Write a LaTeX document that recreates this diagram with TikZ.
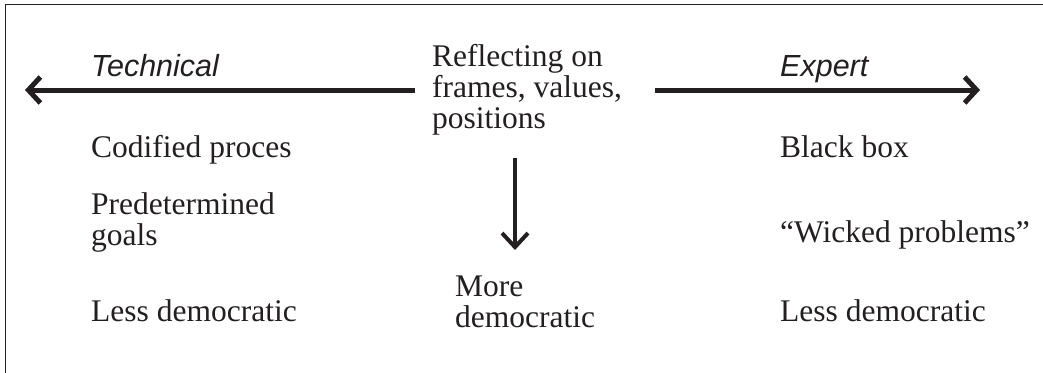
\documentclass[tikz,border=0pt]{standalone}
\usepackage{fontspec}
\setmainfont{Liberation Serif}
\newfontfamily\labelsans{Liberation Sans}
\usetikzlibrary{arrows.meta}
\definecolor{ink}{HTML}{231F20}
\begin{document}
\begin{tikzpicture}[x=1pt,y=-1pt,
  txt/.style={anchor=base west,inner sep=0pt,align=left,text=ink,font=\fontsize{31.5}{31}\selectfont},
  pole/.style={anchor=base west,inner sep=0pt,text=ink,font=\labelsans\itshape\fontsize{30.5}{31}\selectfont},
  bigarrow/.style={draw=ink,line width=5pt,-{Straight Barb[length=12pt,width=26pt]}},
  downarrow/.style={draw=ink,line width=4pt,-{Straight Barb[length=14pt,width=26pt]}}]
\useasboundingbox (0,0) rectangle (1043,372);
\draw[ink,line width=1.5pt] (5.5,380) -- (5.5,4.5) -- (1050,4.5);
% poles
\node[pole] (tech) at (91,76) {Technical};
\node[pole] (expert) at (780,76) {Expert};
% center text (base = last line)
\node[txt] (center) at (432,128) {Reflecting on\\frames, values,\\positions};
% arrows
\coordinate (lstart) at (415,90);
\coordinate (lend) at (25,90);
\coordinate (rstart) at (655,90);
\coordinate (rend) at (980,90);
\coordinate (dstart) at (515,158);
\coordinate (dend) at (515,250);
\draw[bigarrow] (lstart) -- (lend);
\draw[bigarrow] (rstart) -- (rend);
\draw[downarrow] (dstart) -- (dend);
% left column
\node[txt] (codified) at (91,157) {Codified proces};
\node[txt] (predet) at (91,245) {Predetermined\\goals};
\node[txt] (lessl) at (91,321) {Less democratic};
% right column
\node[txt] (blackbox) at (780,157) {Black box};
\node[txt] (wicked) at (780,242) {``Wicked problems''};
\node[txt] (lessr) at (780,321) {Less democratic};
% bottom center
\node[txt] (more) at (455,327) {More\\democratic};
\end{tikzpicture}
\end{document}
